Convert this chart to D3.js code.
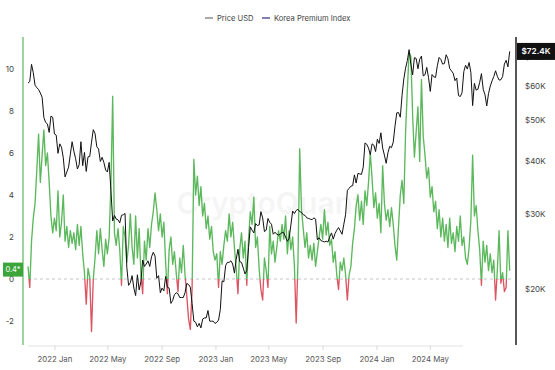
<!DOCTYPE html>
<html>
<head>
<meta charset="utf-8">
<script src="https://cdn.jsdelivr.net/npm/d3@7"></script>
<style>
  body { margin: 0; background: #fff; }
  svg { font-family: Inter, "Noto Sans", sans-serif; }
</style>
</head>
<body>
<svg id="chart" width="555" height="370"></svg>
<script>
// one sample every 4 days, starting 1 Nov 2021
const startDate = new Date(2021, 10, 1);
const endDate = new Date(2024, 9, 31);
const stepDays = 4;

// Korea Premium Index (%)
const premium = [
  0.6,-0.4,1.8,2.9,3.6,5.2,6.9,4.6,5.9,7.1,
  5.4,6.0,4.6,3.0,2.2,2.9,2.3,4.2,2.0,2.7,
  4.0,1.8,2.5,1.5,2.3,1.7,2.2,1.4,2.6,1.6,
  2.5,1.2,0.3,-1.2,0.5,0.1,-2.5,0.0,1.0,2.3,
  1.2,2.4,1.4,0.6,1.9,1.2,2.0,4.5,8.7,2.2,
  1.6,2.4,1.4,
  -0.3,2.5,2.0,0.8,1.6,3.1,1.5,
  0.7,3.0,1.0,2.4,0.2,-0.7,1.8,0.9,2.4,1.5,
  2.6,3.2,4.1,3.3,2.3,3.1,2.0,2.7,0.8,-0.7,
  1.4,2.0,0.7,1.3,0.3,-0.6,1.0,0.3,1.6,0.2,
  -0.8,-1.9,-2.4,-0.5,5.7,4.0,4.9,3.5,4.4,3.0,
  3.6,2.4,3.0,1.9,2.5,1.3,0.9,
  1.2,-0.4,1.3,
  0.7,1.6,2.3,1.8,3.1,2.0,2.7,1.5,0.5,-0.7,
  1.4,2.2,1.0,1.8,-0.3,1.9,3.2,2.6,3.9,1.5,
  2.0,0.5,-0.5,-1.0,1.0,0.4,-0.4,2.5,1.2,1.8,
  0.8,1.5,2.3,1.8,2.6,1.9,3.0,1.2,2.3,1.4,
  2.0,0.6,-2.1,0.8,6.2,3.3,2.4,1.5,2.2,1.0,
  1.6,0.9,1.7,0.6,1.3,2.0,2.6,1.9,3.3,2.1,
  2.7,1.6,1.9,0.8,1.3,0.2,-0.5,0.8,0.4,1.0,
  0.2,-1.0,0.2,0.6,1.7,2.4,3.5,4.0,2.8,3.7,
  2.6,4.2,3.5,4.6,6.0,4.8,3.4,4.1,2.9,3.6,
  2.2,5.4,3.6,2.8,3.3,2.5,3.4,2.6,1.6,0.9,
  2.5,4.0,4.7,3.6,7.0,9.0,10.8,10.6,7.8,5.8,
  7.0,8.2,5.6,9.5,6.8,5.9,4.8,5.3,3.9,4.4,
  3.2,3.7,2.4,3.3,2.0,2.9,1.8,2.6,1.5,2.9,
  1.7,2.2,1.3,2.5,1.8,3.0,1.6,2.0,1.0,0.7,
  1.5,2.8,5.9,3.0,3.5,2.3,1.4,-0.3,1.8,0.8,
  1.6,0.4,1.2,0.3,0.9,-1.0,0.4,2.3,-0.2,0.3,
  -0.6,-0.4,2.3,0.4
];

// BTC price, thousand USD
const priceK = [
  61.0,61.5,67.5,64.5,60.3,59.5,58.9,57.8,
  56.5,50.6,49.3,48.9,46.7,51.0,50.7,46.3,
  46.0,41.7,43.9,43.1,40.7,36.7,37.7,38.7,
  41.5,44.4,42.2,40.5,38.3,39.2,
  44.4,39.0,41.9,37.8,40.9,41.0,44.3,47.4,
  46.4,43.2,42.7,39.9,40.8,39.7,38.1,37.7,
  39.7,34.1,28.9,29.8,29.2,29.1,28.6,
  29.8,29.9,30.1,22.5,20.4,20.7,21.5,20.1,
  19.3,21.6,19.9,20.8,23.4,22.6,22.9,23.3,
  22.6,23.8,24.4,23.9,21.2,21.5,19.6,
  20.1,19.8,21.4,20.2,20.1,18.5,18.8,19.4,
  19.6,19.5,19.1,19.1,19.1,19.6,20.6,20.5,
  20.2,18.5,16.8,16.7,16.3,16.6,16.2,
  17.0,17.1,17.1,17.8,16.8,16.8,16.8,16.6,
  16.7,16.9,17.9,20.9,20.8,22.7,23.1,23.1,
  23.3,22.9,21.8,23.5,24.8,23.2,23.1,
  22.4,21.7,22.1,25.0,28.0,27.5,27.1,
  28.5,28.2,28.3,30.4,29.4,27.3,27.5,29.3,
  28.7,28.4,26.9,27.2,26.9,26.8,26.9,27.2,
  27.1,26.5,25.9,26.3,28.3,30.5,30.1,
  30.6,30.8,30.4,30.3,29.9,29.8,29.4,29.3,
  29.2,29.1,29.4,29.2,26.1,26.4,26.0,25.9,
  25.8,25.9,25.8,26.5,27.1,26.2,27.0,
  27.5,27.9,27.4,26.9,28.4,29.9,34.1,34.5,
  34.9,35.0,37.1,35.5,37.4,37.3,37.2,
  38.7,44.1,43.8,42.9,41.4,43.9,43.6,42.1,
  45.0,44.0,46.6,42.9,41.3,39.5,41.8,43.3,
  43.0,44.3,48.3,51.9,52.0,50.7,57.1,
  62.4,66.1,68.9,73.1,67.6,63.8,70.0,69.7,
  65.9,69.4,70.6,63.4,63.8,66.4,62.9,
  58.3,63.9,63.1,62.9,67.0,70.1,69.3,67.6,
  67.8,71.1,69.6,66.0,65.2,64.3,61.8,62.7,
  57.0,56.7,57.9,64.9,67.2,65.8,68.2,
  64.6,54.0,60.9,58.7,59.0,61.2,64.2,59.0,
  57.3,53.9,57.6,60.0,61.7,63.2,65.2,63.3,
  62.0,62.1,63.2,67.6,69.0,66.6,72.4
];

const leftTicks = [-2, 0, 2, 4, 6, 8, 10];
const priceTicks = [20000, 30000, 40000, 50000, 60000, 70000];
const monthTicks = ["2022-01-01","2022-05-01","2022-09-01","2023-01-01",
                    "2023-05-01","2023-09-01","2024-01-01","2024-05-01"];
const legendItems = [
  {name: "Price USD", color: "#7a7a7a"},
  {name: "Korea Premium Index", color: "#3b3b8c"}
];

const green = "#5cb85c", red = "#dc5563";
const plotTop = 37, plotBottom = 345;

const svg = d3.select("#chart");

const x = d3.scaleTime()
    .domain([startDate, endDate])
    .range([28, 511]);
const yL = d3.scaleLinear()
    .domain([0, 10])
    .range([279, 69]);
const yR = d3.scaleLog()
    .domain([20000, 40000])
    .range([289, 161]);

const rows = premium.map((v, i) => ({
    date: d3.timeDay.offset(startDate, i * stepDays),
    premium: v,
    price: priceK[i] * 1000
}));

//watermark
svg.append("text")
    .attr("x", 270)
    .attr("y", 214)
    .attr("text-anchor", "middle")
    .attr("font-size", 30)
    .attr("font-weight", 600)
    .attr("fill", "#000")
    .attr("opacity", 0.035)
    .text("CryptoQuant");

//legend
let legend = svg.append("g")
    .selectAll("g")
    .data(legendItems)
    .enter().append("g")
    .attr("transform", (d, i) => `translate(${i === 0 ? 205 : 262},18)`);
legend.append("line")
    .attr("x1", 0).attr("x2", 8)
    .attr("stroke", d => d.color)
    .attr("stroke-width", 1.3);
legend.append("text")
    .attr("x", 12)
    .attr("dy", "0.35em")
    .attr("font-size", 7.6)
    .attr("fill", "#444")
    .text(d => d.name);

//x axis
let xg = svg.append("g").attr("transform", `translate(0,${plotBottom + 1})`);
xg.append("line")
    .attr("x1", 28).attr("x2", 463)
    .attr("stroke", "#e2e2e2");
let xt = xg.selectAll(".tick")
    .data(monthTicks.map(d => d3.timeParse("%Y-%m-%d")(d)))
    .enter().append("g")
    .attr("class", "tick")
    .attr("transform", d => `translate(${x(d)},0)`);
xt.append("line").attr("y2", 4).attr("stroke", "#d8d8d8");
xt.append("text")
    .attr("y", 16)
    .attr("text-anchor", "middle")
    .attr("font-size", 7.8)
    .attr("fill", "#555")
    .text(d => d3.timeFormat("%Y %b")(d));

//left axis
svg.append("line")
    .attr("x1", 23).attr("x2", 23)
    .attr("y1", plotTop).attr("y2", plotBottom)
    .attr("stroke", green)
    .attr("stroke-width", 1.2);
svg.append("g").selectAll("text")
    .data(leftTicks)
    .enter().append("text")
    .attr("x", 14)
    .attr("y", d => yL(d))
    .attr("dy", "0.35em")
    .attr("text-anchor", "end")
    .attr("font-size", 8)
    .attr("fill", "#444")
    .text(d => d);

//right axis
svg.append("line")
    .attr("x1", 516).attr("x2", 516)
    .attr("y1", plotTop).attr("y2", plotBottom)
    .attr("stroke", "#111")
    .attr("stroke-width", 1.4);
svg.append("g").selectAll("text")
    .data(priceTicks)
    .enter().append("text")
    .attr("x", 525)
    .attr("y", d => yR(d))
    .attr("dy", "0.35em")
    .attr("font-size", 8)
    .attr("fill", "#444")
    .text(d => "$" + d / 1000 + "K");

//zero line
svg.append("line")
    .attr("x1", 28).attr("x2", 511)
    .attr("y1", yL(0)).attr("y2", yL(0))
    .attr("stroke", "#c4c4c4")
    .attr("stroke-dasharray", "3,3");

//green above zero, red below
let zeroOffset = (yL(0) - plotTop) / (plotBottom - plotTop);
let grad = svg.append("defs").append("linearGradient")
    .attr("id", "premiumColor")
    .attr("gradientUnits", "userSpaceOnUse")
    .attr("x1", 0).attr("x2", 0)
    .attr("y1", plotTop).attr("y2", plotBottom);
grad.selectAll("stop")
    .data([[0, green], [zeroOffset, green], [zeroOffset, red], [1, red]])
    .enter().append("stop")
    .attr("offset", d => d[0])
    .attr("stop-color", d => d[1]);

svg.append("path")
    .datum(rows)
    .attr("fill", "none")
    .attr("stroke", "url(#premiumColor)")
    .attr("stroke-width", 1.35)
    .attr("stroke-linejoin", "round")
    .attr("d", d3.line().x(d => x(d.date)).y(d => yL(d.premium)));

svg.append("path")
    .datum(rows)
    .attr("fill", "none")
    .attr("stroke", "#111")
    .attr("stroke-width", 1)
    .attr("stroke-linejoin", "round")
    .attr("d", d3.line().x(d => x(d.date)).y(d => yR(d.price)));

//last value labels
let last = rows[rows.length - 1];
svg.append("rect")
    .attr("x", 3).attr("y", yL(last.premium) - 8)
    .attr("width", 20).attr("height", 14)
    .attr("fill", "#3ba53b");
svg.append("text")
    .attr("x", 13).attr("y", yL(last.premium) - 1)
    .attr("dy", "0.35em")
    .attr("text-anchor", "middle")
    .attr("font-size", 7.5)
    .attr("fill", "#fff")
    .text(last.premium + "*");

svg.append("rect")
    .attr("x", 517).attr("y", yR(last.price) - 8.5)
    .attr("width", 38).attr("height", 17)
    .attr("fill", "#111");
svg.append("text")
    .attr("x", 536).attr("y", yR(last.price))
    .attr("dy", "0.35em")
    .attr("text-anchor", "middle")
    .attr("font-size", 8.2)
    .attr("font-weight", 600)
    .attr("fill", "#fff")
    .text("$" + (last.price / 1000).toFixed(1) + "K");
</script>
</body>
</html>
